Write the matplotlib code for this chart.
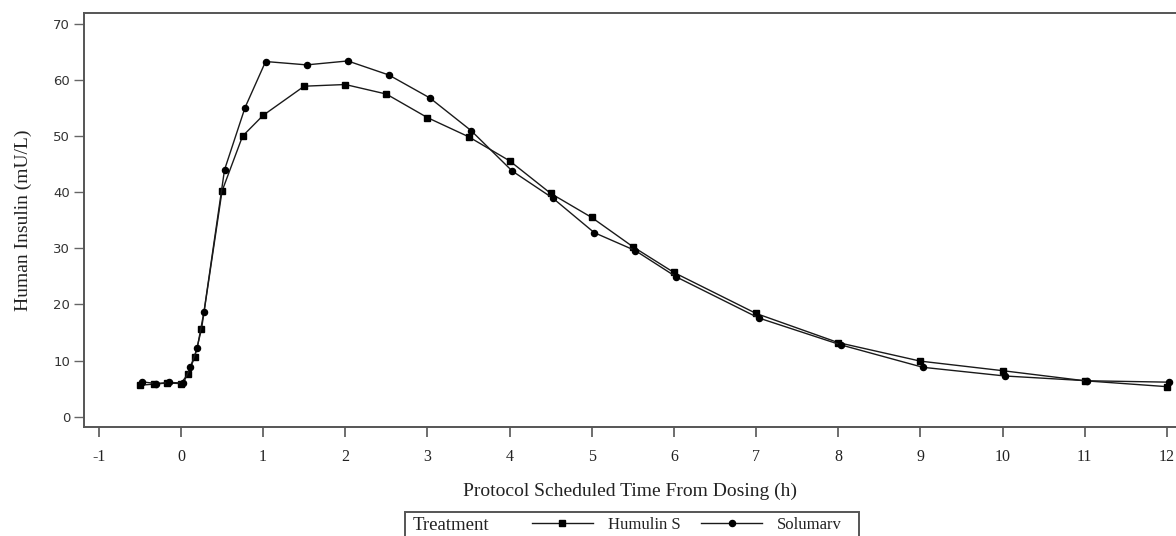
import matplotlib
matplotlib.use("Agg")
import matplotlib.pyplot as plt
from matplotlib.patches import Rectangle
from matplotlib.transforms import ScaledTranslation

# ---- data ----
times = [-0.5, -0.33, -0.17, 0.0, 0.083, 0.167, 0.25, 0.5, 0.75, 1.0, 1.5, 2.0,
         2.5, 3.0, 3.5, 4.0, 4.5, 5.0, 5.5, 6.0, 7.0, 8.0, 9.0, 10.0, 11.0, 12.0]
humulin = [5.6, 5.8, 6.0, 5.9, 7.6, 10.6, 15.6, 40.2, 50.0, 53.7, 58.9, 59.2,
           57.5, 53.3, 49.9, 45.6, 39.8, 35.5, 30.3, 25.7, 18.4, 13.2, 9.9, 8.2, 6.4, 5.35]
solumarv = [6.2, 5.9, 6.1, 6.0, 8.8, 12.2, 18.7, 44.0, 55.1, 63.3, 62.7, 63.4,
            60.9, 56.8, 51.0, 43.8, 38.9, 32.8, 29.6, 24.9, 17.6, 12.8, 8.8, 7.25, 6.4, 6.15]
series_names = ["Humulin S", "Solumarv"]
xticks = list(range(-1, 13))
yticks = list(range(0, 71, 10))

W, H = 1176, 536
fig = plt.figure(figsize=(W / 100, H / 100), dpi=100)
ax = fig.add_axes([84 / W, 1 - 427 / H, (1180 - 84) / W, (427 - 12.7) / H])

serif = ["Liberation Serif", "DejaVu Serif"]
lc = "#1a1a1a"

h1, = ax.plot(times, humulin, color=lc, lw=1.0, marker="s", ms=4.8,
              mfc="black", mec="black", label=series_names[0])
off = ScaledTranslation(2.5 / 100, 0, fig.dpi_scale_trans)
h2, = ax.plot(times, solumarv, color=lc, lw=1.0, marker="o", ms=4.4,
              mfc="black", mec="black", label=series_names[1],
              transform=ax.transData + off)

ax.set_xlim(-1.18, 12.16)
ax.set_ylim(-1.84, 72.0)
ax.set_xticks(xticks)
ax.set_yticks(yticks)
ax.set_xticklabels([str(v) for v in xticks], family=serif, fontsize=11.5)
ax.set_yticklabels([str(v) for v in yticks], family=["DejaVu Sans"], fontsize=9.5)

for s in ["left", "bottom", "top"]:
    ax.spines[s].set_color("#555555")
    ax.spines[s].set_linewidth(1.4)
ax.spines["right"].set_visible(False)
ax.tick_params(axis="x", direction="out", length=7, width=1.2, color="#555555",
               pad=9, labelcolor="#222222")
ax.tick_params(axis="y", direction="out", length=7, width=1.0, color="#666666",
               pad=3, labelcolor="#333333")

ax.set_ylabel("Human Insulin (mU/L)", family=serif, fontsize=14, color="#222222")
ax.yaxis.set_label_coords(-(84 - 32) / (1180 - 84), 0.5)
fig.text(630 / W, 1 - 491 / H, "Protocol Scheduled Time From Dosing (h)",
         family=serif, fontsize=14, color="#222222", ha="center", va="center")

# legend box (bottom edge cropped like the original)
fig.patches.append(Rectangle((405 / W, -0.05), (859 - 405) / W, 0.05 + (536 - 512) / H,
                             transform=fig.transFigure, fill=False,
                             edgecolor="#555555", lw=1.4))
fig.text(413 / W, 1 - 525 / H, "Treatment", family=serif, fontsize=13.5,
         color="#222222", ha="left", va="center")
leg = fig.legend(handles=[h1, h2], labels=series_names, loc="center left",
                 bbox_to_anchor=(532 / W, 1 - 525 / H), ncol=2, frameon=False,
                 prop={"family": serif, "size": 12}, handlelength=3.65,
                 handletextpad=0.9, columnspacing=1.25, borderpad=0, borderaxespad=0)
for t in leg.get_texts():
    t.set_color("#222222")

fig.savefig("out.png", dpi=100)
